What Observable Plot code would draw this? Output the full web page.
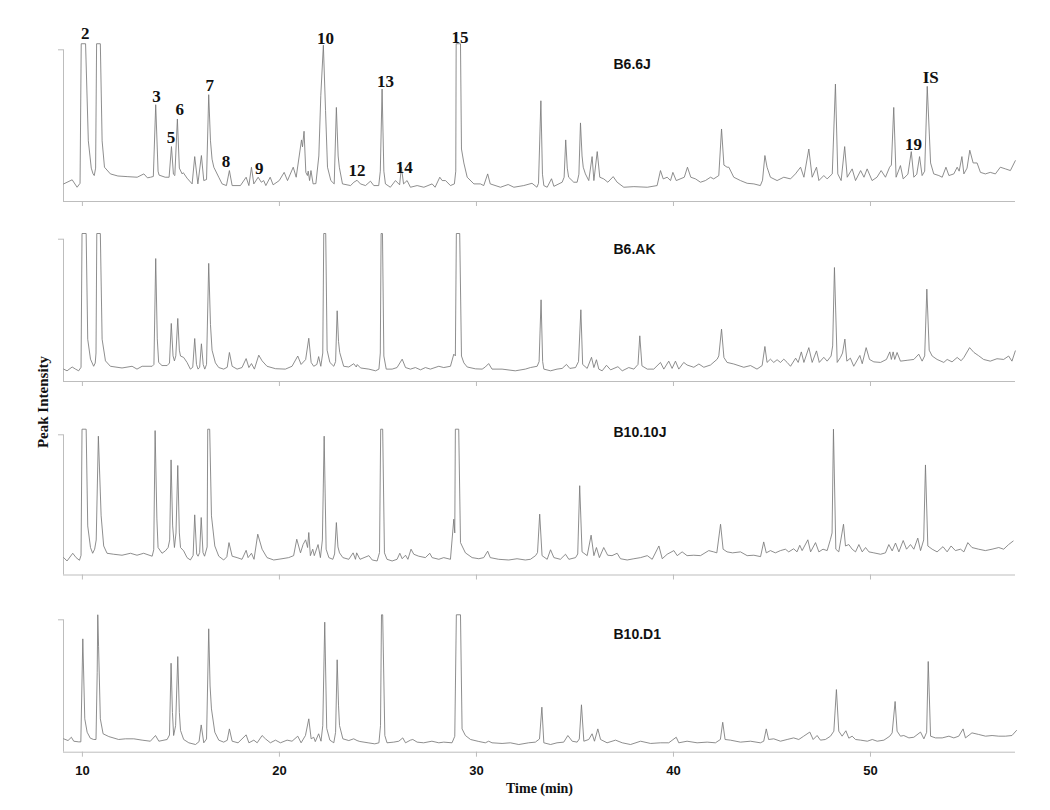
<!DOCTYPE html>
<html><head><meta charset="utf-8">
<script src="https://cdn.jsdelivr.net/npm/d3@7"></script>
<script src="https://cdn.jsdelivr.net/npm/@observablehq/plot@0.6"></script>
<style>
body{margin:0;background:#fff;}
#wrap{position:relative;width:1050px;height:810px;overflow:hidden;background:#fff;}
#wrap svg{position:absolute;left:0;}
#ylab{position:absolute;left:43px;top:402px;transform:translate(-50%,-50%) rotate(-90deg);font:bold 15px "Liberation Serif","Times New Roman",serif;white-space:nowrap;color:#111;}
</style></head><body><div id="wrap"><div id="ylab">Peak Intensity</div></div>
<script>
// ---- data (time in min, intensity as % of panel top tick) ----
const sampleNames = ["B6.6J", "B6.AK", "B10.10J", "B10.D1"];
const xTicks = [10, 20, 30, 40, 50];
const timeDomain = [9.04, 57.36];

const traceB66J = [[9.05,11.6],[9.48,14.3],[9.73,9.4],[9.88,12],[9.94,104],[10.16,104],[10.3,40],[10.45,22],[10.54,18.2],[10.6,17.1],[10.67,22],[10.72,104],[10.91,104],[11.0,40],[11.12,22.6],[11.42,18.2],[11.8,16.8],[12.27,16.4],[12.78,16],[13.12,18.2],[13.3,15.6],[13.46,16],[13.6,16.5],[13.72,63.8],[13.84,20],[13.89,17.4],[14.2,16],[14.4,16],[14.52,36.2],[14.62,18],[14.69,17.1],[14.82,54.4],[14.92,22],[15.06,18.2],[15.12,19],[15.31,15.4],[15.57,11.6],[15.7,29.6],[15.86,11.6],[16.04,30.3],[16.16,13.8],[16.3,14.5],[16.41,70.4],[16.5,40],[16.58,27.9],[16.67,22.6],[16.92,16],[17.09,11.6],[17.31,10.5],[17.46,20.4],[17.6,10.5],[18.02,10.5],[18.31,16],[18.45,10.5],[18.58,22.6],[18.7,11.6],[18.92,16],[19.08,12.7],[19.2,13.8],[19.31,10.5],[19.53,16],[19.68,11],[19.99,13.8],[20.24,19.2],[20.41,13.8],[20.7,22.6],[20.85,16],[21.12,40.6],[21.17,36],[21.25,46.3],[21.34,19.2],[21.42,17.1],[21.46,20],[21.53,13.8],[21.6,20.4],[21.71,11.6],[21.85,11.8],[22.0,30],[22.1,70],[22.23,103],[22.34,60],[22.44,22.6],[22.61,13.8],[22.78,11.6],[22.89,62],[22.98,30],[23.04,22.6],[23.2,11.6],[23.61,10.5],[23.78,12.7],[23.94,14],[24.11,11.6],[24.37,10.5],[24.62,13.4],[24.79,10.5],[25.04,10.5],[25.12,20],[25.21,74.1],[25.3,20],[25.38,11.6],[25.63,9.4],[25.89,13.8],[26.1,11],[26.19,22.6],[26.3,11.6],[26.48,13.8],[26.65,9.4],[26.99,10.5],[27.33,9.4],[27.75,11.6],[27.9,9.4],[28.14,16],[28.26,13.8],[28.43,13.8],[28.68,10.5],[28.88,11.6],[28.95,20],[28.97,104],[29.19,104],[29.24,34.6],[29.36,25.4],[29.53,16],[29.87,11.6],[30.2,11.6],[30.37,10.5],[30.57,18.2],[30.7,11.6],[31.22,9.4],[31.61,11.2],[31.9,9.4],[32.4,10.5],[32.82,12],[33.07,9.4],[33.15,12],[33.27,66.4],[33.35,18],[33.42,10.5],[33.59,9.4],[33.81,15],[33.93,10],[34.35,12.7],[34.45,16],[34.53,40.6],[34.61,22],[34.68,16],[34.94,12.7],[35.11,12.7],[35.2,18],[35.28,51.8],[35.36,30],[35.42,22.6],[35.53,18.2],[35.7,13.8],[35.87,29.6],[35.96,13.8],[36.13,32.9],[36.26,16],[36.46,14.9],[36.67,12.7],[36.94,16.4],[37.14,12.7],[37.48,9.4],[37.99,9.8],[38.67,9.4],[39.17,10.5],[39.34,20.4],[39.48,14.9],[39.68,16],[39.85,13.8],[39.97,19.2],[40.14,13.8],[40.55,16],[40.71,22.6],[40.88,16],[41.12,14.9],[41.37,12.7],[41.62,13.8],[41.88,16],[42.04,14.9],[42.3,17.1],[42.44,47.8],[42.56,24],[42.72,22.6],[42.81,22.6],[43.06,16],[43.4,13.8],[43.74,12],[44.08,11.6],[44.41,10.5],[44.52,14],[44.64,30.3],[44.75,22.6],[44.92,16],[45.26,13.8],[45.6,16],[45.94,14.9],[46.19,18.2],[46.45,22.6],[46.62,16],[46.87,34.6],[47.04,16],[47.26,22.6],[47.38,13.8],[47.63,17.1],[47.8,14.9],[48.06,18.2],[48.22,77.4],[48.34,18.2],[48.51,13.8],[48.69,36.2],[48.82,16],[49.07,21.5],[49.24,13.8],[49.5,20.4],[49.67,16],[49.83,21.5],[50.08,13.8],[50.33,16],[50.54,20.4],[50.76,16],[50.97,22.6],[51.06,24],[51.18,62],[51.3,16],[51.52,23.7],[51.66,14.9],[51.9,18],[52.07,32.9],[52.2,16],[52.35,18],[52.49,29.6],[52.62,17.1],[52.75,20],[52.88,75.9],[53.05,25.4],[53.21,18.2],[53.47,17.1],[53.64,16],[53.83,22.6],[53.98,17.1],[54.23,18.2],[54.4,22.6],[54.5,20],[54.64,29.6],[54.74,18.2],[54.9,22],[55.04,33.8],[55.21,25.4],[55.41,25.4],[55.58,19.2],[55.83,18.2],[56.08,19.2],[56.34,18.2],[56.59,22.6],[56.85,21.5],[57.1,20.4],[57.35,26.9]];

const traceB6AK = [[9.05,8.7],[9.22,7.5],[9.48,10.2],[9.65,8.7],[9.81,7.5],[9.93,10],[9.98,104],[10.19,104],[10.27,29.7],[10.41,15.7],[10.57,10.7],[10.65,13],[10.69,20],[10.73,104],[10.91,104],[11.0,29.7],[11.17,14.5],[11.42,10.7],[12.01,9.5],[12.52,10.7],[12.77,8.7],[13.03,10.7],[13.54,10.7],[13.63,12],[13.72,86.4],[13.8,30],[13.87,13.4],[14.04,11.2],[14.3,11.2],[14.42,13],[14.51,40.8],[14.6,18],[14.67,14.5],[14.74,18],[14.84,44.3],[14.92,22],[14.98,17.9],[15.14,16.9],[15.31,13.4],[15.48,8.7],[15.6,10],[15.7,30.2],[15.79,12],[15.87,8.7],[15.95,10],[16.04,26.5],[16.13,12],[16.21,8.7],[16.3,12],[16.41,83],[16.5,40],[16.58,22],[16.75,13.1],[16.92,9.8],[17.17,8.7],[17.35,10],[17.46,20.4],[17.6,10.7],[17.85,8.7],[18.1,9.8],[18.31,16.1],[18.45,9.8],[18.58,12.6],[18.73,8.7],[18.95,18.5],[19.12,14.5],[19.37,10.7],[19.8,9],[20.3,8.7],[20.64,10.7],[20.93,17.9],[21.1,12],[21.33,15.4],[21.49,30.4],[21.61,13.4],[21.74,10.7],[21.9,12],[21.99,17.5],[22.1,10.7],[22.2,20],[22.25,104],[22.35,104],[22.42,22],[22.56,13.4],[22.76,10.7],[22.85,14],[22.93,49.7],[23.0,28],[23.06,20.4],[23.26,10.7],[23.52,10.2],[23.77,12.5],[23.9,10.2],[23.95,11.9],[24.12,9.5],[24.54,8.7],[24.88,7.5],[25.05,8.7],[25.12,20],[25.16,104],[25.23,104],[25.3,17.9],[25.42,8.7],[25.72,8.7],[25.97,9.8],[26.23,15.7],[26.4,9.8],[26.65,8.7],[26.9,9.8],[27.16,8.2],[27.41,9.8],[27.66,8.7],[28.09,10.7],[28.34,9.8],[28.68,10.7],[28.85,19.2],[28.93,18],[28.98,104],[29.15,104],[29.24,17.9],[29.36,13.1],[29.53,10.2],[29.95,8.9],[30.29,8.7],[30.45,10.2],[30.62,12.6],[30.79,8.7],[31.3,8.7],[31.97,7.5],[32.48,8.7],[32.74,9.8],[33.08,10.7],[33.18,14],[33.28,57.4],[33.36,14],[33.42,8.7],[33.76,7.5],[34.09,8.7],[34.35,9.2],[34.57,12],[34.74,9.2],[35.03,9.8],[35.18,14],[35.3,50.4],[35.39,12],[35.62,9.2],[35.84,17],[35.96,9.8],[36.09,15.3],[36.21,8.7],[36.38,7.5],[36.6,11.4],[36.81,8.2],[37.18,10.4],[37.4,7.5],[37.73,9.8],[37.99,8.7],[38.2,12],[38.29,32.1],[38.4,11],[38.67,8.7],[39.0,8.7],[39.34,13.4],[39.51,8.7],[39.76,14.3],[39.93,9.2],[40.1,14.3],[40.27,8.7],[40.52,13.4],[40.69,11.6],[41.03,10],[41.29,12.3],[41.54,10],[41.88,11.6],[42.22,15.7],[42.3,18],[42.44,36.8],[42.56,16.9],[42.72,13.4],[43.06,12.3],[43.57,10],[43.91,11.2],[44.24,8.7],[44.5,11.2],[44.64,24.6],[44.75,13.4],[44.92,15.7],[45.09,13.4],[45.26,15.3],[45.43,13.4],[45.6,15.7],[45.77,13.4],[45.94,10.7],[46.2,16.4],[46.33,13.4],[46.49,20.8],[46.62,13.4],[46.87,23.8],[47.04,13.4],[47.26,21.5],[47.4,13.4],[47.63,17],[47.8,14.3],[48.0,17.9],[48.08,25],[48.17,80.1],[48.31,13.4],[48.48,17],[48.58,20],[48.7,29.8],[48.8,14.3],[48.98,16.4],[49.15,10.7],[49.46,18.3],[49.58,12.5],[49.78,23.8],[49.95,15.5],[50.17,13.8],[50.51,13.4],[50.81,15.5],[50.98,20.8],[51.06,15.5],[51.15,20.8],[51.23,15.5],[51.35,20.4],[51.52,14.3],[51.86,14.9],[52.2,15.5],[52.45,19.2],[52.62,14.3],[52.75,18],[52.86,64.9],[52.98,22],[53.13,17.9],[53.38,15.5],[53.72,13.4],[53.89,15.5],[54.14,13.8],[54.4,16.9],[54.6,14.6],[54.74,16.9],[55.03,23.8],[55.25,20.4],[55.49,18.1],[55.74,15.5],[56.08,14.3],[56.42,16],[56.76,15.5],[57.01,17.9],[57.18,14.3],[57.35,21.5]];

const traceB1010J = [[9.05,12.4],[9.22,10],[9.51,15.5],[9.68,12.4],[9.85,10.5],[9.93,14],[9.98,104],[10.19,104],[10.27,35],[10.41,19.6],[10.52,15.5],[10.62,18.4],[10.7,25],[10.81,99],[10.95,42.2],[11.08,20.7],[11.25,15.5],[11.59,14.8],[12.01,14.1],[12.44,15.5],[12.77,14.1],[13.11,15.5],[13.54,13.4],[13.62,18],[13.69,103],[13.78,40],[13.84,19.6],[14.04,15.5],[14.21,17.2],[14.35,19.6],[14.43,25],[14.5,82.1],[14.58,35],[14.67,19.6],[14.75,30],[14.84,78.1],[14.92,30],[14.98,19.6],[15.14,17.2],[15.31,12.4],[15.48,10.7],[15.62,14],[15.7,42.9],[15.8,15],[15.87,13.4],[15.95,16],[16.03,41],[16.12,16],[16.2,13.4],[16.33,20],[16.36,104],[16.46,104],[16.55,42.2],[16.72,20.7],[16.92,13.4],[17.17,10.7],[17.33,13],[17.44,23.1],[17.6,13.4],[17.85,12.4],[18.1,11.2],[18.31,17.6],[18.41,12.4],[18.58,15.5],[18.71,11.2],[18.9,29.1],[19.12,18.4],[19.37,12.4],[19.71,10.7],[20.13,11.6],[20.47,12.4],[20.72,13.8],[20.88,25.5],[21.07,15.8],[21.2,21.7],[21.33,25.1],[21.43,19.6],[21.49,30.3],[21.57,13.8],[21.69,18.4],[21.77,13.8],[21.96,21.7],[22.08,12.4],[22.18,25],[22.27,99],[22.37,18.4],[22.51,12.4],[22.71,11.2],[22.8,15],[22.89,37.4],[22.97,20],[23.05,15.8],[23.22,12.4],[23.52,11.2],[23.74,15.8],[23.86,11.2],[23.92,15.8],[24.09,11.2],[24.54,13.8],[24.71,10.7],[24.96,10],[25.08,16],[25.14,104],[25.24,104],[25.33,15.8],[25.46,11.2],[25.72,10],[25.97,11.2],[26.11,15.5],[26.23,11.6],[26.4,14.1],[26.52,11.2],[26.68,18.4],[26.82,14.8],[27.07,13.4],[27.41,12.4],[27.63,15.5],[27.75,12.4],[28.09,11.2],[28.34,12.4],[28.68,11.2],[28.85,39.8],[28.9,30],[28.93,104],[29.1,104],[29.19,23.1],[29.27,20.7],[29.44,15.8],[29.78,12.4],[30.12,11.6],[30.37,12.4],[30.57,17],[30.7,12.4],[31.13,11.2],[31.64,10.7],[32.06,11.6],[32.48,10.7],[32.74,11.2],[33.0,13.8],[33.1,16],[33.21,43.4],[33.33,13.8],[33.59,11.2],[33.76,18],[33.93,12.4],[34.26,11.2],[34.52,14.8],[34.69,11.2],[35.03,12.4],[35.14,15],[35.24,63.7],[35.36,16.5],[35.62,13.8],[35.82,28.4],[35.96,13.8],[36.09,19.6],[36.24,12.4],[36.46,19.6],[36.66,14.1],[36.88,13.8],[37.14,15.5],[37.31,11.6],[37.65,10.7],[37.99,11.6],[38.33,12.4],[38.67,13.8],[38.92,11.2],[39.26,20.7],[39.43,11.6],[39.68,14.8],[40.02,17.4],[40.19,13.8],[40.44,16.5],[40.69,13.8],[41.03,14.1],[41.37,13.8],[41.79,17.4],[42.04,16.5],[42.2,15.8],[42.39,36.2],[42.52,18.4],[42.72,16.5],[43.0,15.8],[43.4,16.5],[43.74,13.8],[44.08,14.1],[44.42,13.1],[44.58,23.6],[44.71,15.8],[44.92,17.4],[45.17,15.8],[45.43,17.4],[45.68,18.4],[45.85,16.5],[46.1,18.7],[46.27,16.5],[46.41,21.2],[46.53,17.4],[46.82,25.1],[46.96,16.5],[47.21,23.1],[47.38,16.5],[47.59,18.4],[47.8,17.4],[47.97,25.5],[48.05,30],[48.12,104],[48.24,18.4],[48.39,16.5],[48.63,36.2],[48.73,20.7],[48.9,21.7],[49.07,18.4],[49.24,16.5],[49.41,21.7],[49.58,16.5],[49.75,19.6],[49.92,16.5],[50.17,15.8],[50.51,14.8],[50.76,15.8],[50.93,21.7],[51.1,17.2],[51.27,22.8],[51.44,16.5],[51.66,24.6],[51.83,18.4],[52.03,21.7],[52.2,18.4],[52.4,26.3],[52.54,17.4],[52.7,25],[52.79,78.5],[52.91,20.7],[53.13,18.4],[53.38,16.5],[53.68,20.2],[53.89,16.5],[54.09,20.7],[54.31,17.4],[54.57,18.4],[54.74,16.5],[54.94,23.1],[55.15,19.6],[55.49,18.4],[55.83,17.4],[56.17,18.4],[56.51,19.6],[56.76,18.4],[57.01,21.7],[57.24,24.2]];

const traceB10D1 = [[9.05,10.1],[9.27,8.8],[9.44,11.3],[9.56,8.3],[9.81,7.8],[9.92,7.8],[10.02,85.6],[10.12,25.2],[10.24,15.1],[10.4,10.6],[10.57,9.6],[10.69,9.6],[10.75,60],[10.78,103.8],[10.82,80],[10.91,25.2],[11.05,13.9],[11.34,11.8],[11.84,9.6],[12.18,10.1],[12.61,10.1],[13.03,9.1],[13.45,8.3],[13.71,12.6],[13.88,8.3],[14.3,9.6],[14.42,13],[14.5,67.2],[14.57,30],[14.63,12.6],[14.73,20],[14.84,72.2],[14.92,30],[14.98,16.4],[15.14,9.6],[15.4,7.1],[15.74,5.8],[15.92,8],[16.03,20.6],[16.16,7.1],[16.3,10],[16.41,93.2],[16.48,50],[16.55,32.7],[16.72,15.1],[16.92,9.1],[17.17,7.6],[17.35,9],[17.46,17.6],[17.6,8.3],[17.9,7.1],[18.31,13.1],[18.45,7.1],[18.7,9.1],[18.87,7.1],[19.12,12.6],[19.29,10.1],[19.54,7.1],[19.8,9.1],[20.05,7.1],[20.39,9.1],[20.64,8.3],[20.93,12.1],[21.1,7.1],[21.32,12.6],[21.49,25.2],[21.61,10.1],[21.74,11.3],[21.82,8],[21.99,13.9],[22.11,8.3],[22.2,20],[22.3,98.2],[22.4,18],[22.56,9.1],[22.76,7.1],[22.85,15],[22.93,69.8],[23.0,35],[23.05,20.1],[23.22,10.1],[23.52,8.8],[23.77,10.1],[23.94,8.8],[24.08,8.1],[24.5,7.1],[24.84,6.3],[25.05,7.1],[25.13,20],[25.18,103.8],[25.24,103.8],[25.35,12.6],[25.46,7.1],[25.8,7.6],[26.06,8.3],[26.26,10.8],[26.4,7.1],[26.65,9.1],[26.77,9.6],[26.99,7.6],[27.32,7.1],[27.74,8.3],[28.09,7.1],[28.34,7.6],[28.76,7.1],[28.9,12],[28.98,103.8],[29.19,103.8],[29.27,17.6],[29.44,12.6],[29.7,9.6],[30.12,8.1],[30.45,7.1],[30.62,8.3],[30.79,7.1],[31.3,6.6],[31.72,7.1],[32.15,5.8],[32.65,7.1],[32.99,7.6],[33.2,10],[33.32,34],[33.42,7.1],[33.76,5.8],[34.09,7.1],[34.43,7.6],[34.64,12.6],[34.86,8.3],[35.11,7.6],[35.22,10],[35.33,35.8],[35.45,8.3],[35.7,9.6],[35.87,13.9],[35.99,8.3],[36.16,17.6],[36.3,9.6],[36.63,7.1],[37.06,9.1],[37.4,7.1],[37.82,5.8],[38.33,8.3],[38.84,6.6],[39.34,7.1],[39.76,7.1],[40.14,11.3],[40.27,7.1],[40.69,8.3],[41.2,7.1],[41.71,7.6],[42.13,7.1],[42.38,9.6],[42.5,22.6],[42.62,9.6],[42.89,9.1],[43.4,7.6],[43.91,8.3],[44.41,7.1],[44.58,8.3],[44.71,17.6],[44.83,9.6],[45.09,10.1],[45.43,8.3],[45.77,9.6],[46.1,10.8],[46.36,9.6],[46.61,12.1],[46.92,15.2],[47.09,9.6],[47.29,12.6],[47.46,9.1],[47.71,9.6],[47.97,12.1],[48.14,15.9],[48.27,47.3],[48.39,15.9],[48.56,12.1],[48.75,16.2],[48.9,10.6],[49.07,12.1],[49.24,9.6],[49.5,9.1],[49.84,8.3],[50.09,9.6],[50.34,8.3],[50.68,9.1],[50.98,12.1],[51.1,14.6],[51.25,38.3],[51.35,15.9],[51.52,12.1],[51.69,12.6],[51.95,10.8],[52.2,11.3],[52.54,15.2],[52.71,10.1],[52.85,15],[52.93,68.5],[53.05,12.1],[53.3,10.8],[53.64,10.8],[53.98,12.1],[54.23,10.8],[54.48,12.1],[54.7,17.6],[54.82,10.8],[55.15,14.6],[55.49,13.4],[55.84,12.1],[56.17,12.6],[56.51,12.1],[56.85,12.1],[57.18,12.6],[57.41,16.4]];

// peak annotations on the B6.6J trace
const peakLabels = ["2","3","5","6","7","8","9","10","12","13","14","15","19","IS"];
const peakLabelTimes = [10.15,13.76,14.5,14.94,16.46,17.29,18.98,22.34,23.94,25.38,26.33,29.17,52.18,53.06];
const peakLabelHeights = [107,65.3,38.6,57,72.6,22.6,17.8,104.1,17.1,75.7,18.6,104.8,34.0,77.8];

// ---- layout ----
const traces = [traceB66J, traceB6AK, traceB1010J, traceB10D1];
const layout = [
  {top: 0,   height: 215, mt: 49.3, mb: 14,   nameDy: 19},
  {top: 215, height: 200, mt: 23.7, mb: 34,   nameDy: 15},
  {top: 415, height: 185, mt: 19.3, mb: 25.5, nameDy: 2.5},
  {top: 600, height: 210, mt: 19.3, mb: 58.3, nameDy: 18.7}
];
const axisColor = "#bdbdbd";
const traceColor = "#7a7a7a";
const wrap = document.getElementById("wrap");

traces.forEach((trace, i) => {
  const L = layout[i];
  const last = i === traces.length - 1;
  const data = trace.map(([t, v]) => ({t, v}));
  const marks = [
    Plot.ruleY([0], {stroke: axisColor, strokeWidth: 1}),
    Plot.ruleX([timeDomain[0]], {y1: 0, y2: 100, stroke: axisColor, strokeWidth: 1}),
    Plot.axisY([100], {tickSize: 5, tickFormat: () => "", stroke: axisColor, label: null}),
    Plot.axisX(xTicks, {
      tickSize: 5, tickPadding: 9, stroke: axisColor, label: null,
      tickFormat: last ? (d => String(d)) : (() => ""),
      fill: "#111", fontSize: 13, fontWeight: "bold",
      fontFamily: "'Liberation Sans Narrow','Arial Narrow','Liberation Sans',Arial,sans-serif"
    }),
    Plot.line(data, {x: "t", y: "v", stroke: traceColor, strokeWidth: 0.85}),
    Plot.text([sampleNames[i]], {
      text: d => d, frameAnchor: "top-left", dx: 550, dy: L.nameDy,
      lineAnchor: "bottom", textAnchor: "start", fill: "#111",
      fontSize: 14, fontWeight: "bold", fontFamily: "'Liberation Sans',Arial,sans-serif"
    })
  ];
  if (i === 0) {
    marks.push(Plot.text(d3.range(peakLabels.length), {
      x: k => peakLabelTimes[k], y: k => peakLabelHeights[k], text: k => peakLabels[k],
      lineAnchor: "bottom", textAnchor: "middle", fill: "#111",
      fontSize: 17, fontWeight: "bold", fontFamily: "'Liberation Serif','Times New Roman',serif"
    }));
  }
  if (last) {
    marks.push(Plot.text(["Time (min)"], {
      text: d => d, frameAnchor: "bottom", dy: 41, lineAnchor: "bottom", fill: "#111",
      fontSize: 14, fontWeight: "bold", fontFamily: "'Liberation Serif','Times New Roman',serif"
    }));
  }
  const svg = Plot.plot({
    width: 1050, height: L.height,
    marginLeft: 63, marginRight: 35, marginTop: L.mt, marginBottom: L.mb,
    x: {domain: timeDomain},
    y: {domain: [0, 100]},
    style: {background: "transparent", overflow: "visible"},
    marks
  });
  svg.style.top = L.top + "px";
  wrap.appendChild(svg);
});
</script></body></html>
